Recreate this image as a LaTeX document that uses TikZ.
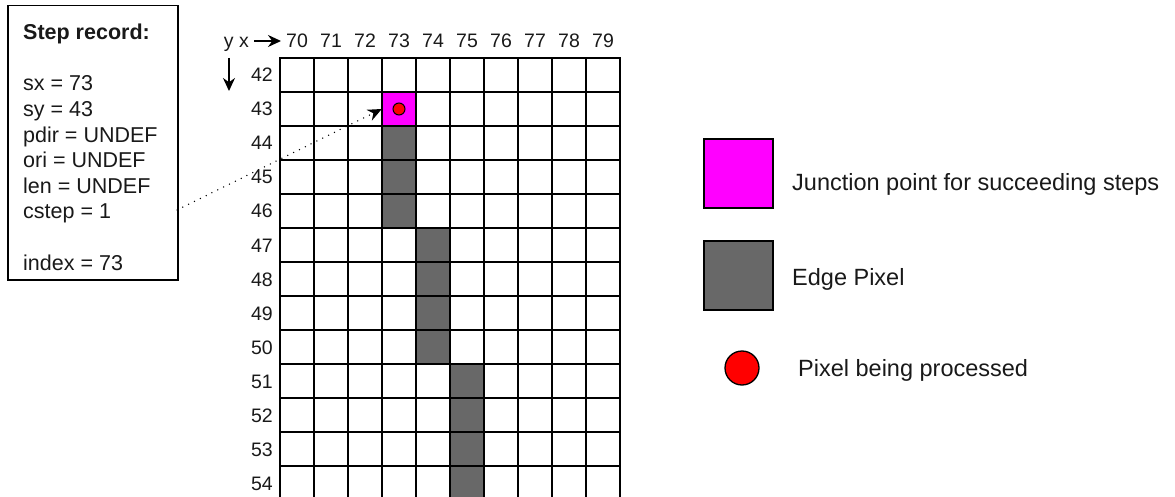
\documentclass[tikz,border=0pt]{standalone}
\usepackage{fontspec}
\setmainfont{Liberation Sans}
\usetikzlibrary{arrows.meta}
\definecolor{edgegray}{RGB}{104,104,104}
\definecolor{juncmag}{RGB}{255,0,255}
\definecolor{procred}{RGB}{255,0,0}
\definecolor{txt}{RGB}{25,25,25}
\begin{document}
\begin{tikzpicture}[x=1pt,y=-1pt,
  gridline/.style={line width=1.5pt, line cap=rect},
  reclabel/.style={anchor=base west, inner sep=0pt, text=txt, font=\fontsize{21.5}{25}\selectfont},
  axlabel/.style={inner sep=0pt, text=txt, font=\fontsize{19.5}{23}\selectfont},
  leglabel/.style={anchor=base west, inner sep=0pt, text=txt, font=\fontsize{23.5}{28}\selectfont},
  axarrow/.style={line width=1.4pt, -{Stealth[length=13pt,width=12pt]}},
  dotarrow/.style={line width=1.5pt, line cap=round, dash pattern=on 0pt off 6.5pt, -{Stealth[length=14pt,width=12pt]}},
  legbox/.style={draw, line width=1.5pt, minimum size=69pt, inner sep=0pt},
]
\useasboundingbox (0,0) rectangle (1175,497);

% step record
\node[draw, line width=1.5pt, minimum width=170pt, minimum height=274pt, inner sep=0pt, anchor=north west] (recbox) at (7,5) {};
\node[reclabel] (rec0) at (23,39.7) {\textbf{Step record:}};
\node[reclabel] (rec2) at (23,90.9) {sx = 73};
\node[reclabel] (rec3) at (23,116.5) {sy = 43};
\node[reclabel] (rec4) at (23,142.1) {pdir = UNDEF};
\node[reclabel] (rec5) at (23,167.7) {ori = UNDEF};
\node[reclabel] (rec6) at (23,193.3) {len = UNDEF};
\node[reclabel] (rec7) at (23,218.9) {cstep = 1};
\node[reclabel] (rec9) at (23,270.1) {index = 73};

% grid
\begin{scope}
\clip (0,0) rectangle (1175,497);
\fill[edgegray] (382,126) rectangle (416,228);
\fill[edgegray] (416,228) rectangle (450,364);
\fill[edgegray] (450,364) rectangle (484,510);
\node[fill=juncmag, minimum size=34pt, inner sep=0pt] (jcell) at (399,109) {};
\foreach \i in {0,...,10}{
  \draw[gridline] ({280+34*\i},58) -- ({280+34*\i},510);
}
\foreach \j in {0,...,12}{
  \draw[gridline] (280,{58+34*\j}) -- (620,{58+34*\j});
}
\end{scope}
\node[circle, draw, fill=procred, line width=1pt, minimum size=12pt, inner sep=0pt] (pdot) at (399,109) {};

% axis labels
\foreach \i in {0,...,9}{
  \pgfmathtruncatemacro\v{70+\i}
  \node[axlabel, anchor=base] (col\v) at ({297+34*\i},48) {\v};
}
\foreach \j in {0,...,12}{
  \pgfmathtruncatemacro\v{42+\j}
  \node[axlabel, anchor=base east] (row\v) at (273,{82+34*\j}) {\v};
}
\node[axlabel, anchor=base east] (yx) at (249,48) {y x};
\coordinate (xa0) at (254,41);
\coordinate (xa1) at (281,41);
\draw[axarrow] (xa0) -- (xa1);
\coordinate (ya0) at (229,58);
\coordinate (ya1) at (229,91);
\draw[axarrow] (ya0) -- (ya1);

% dotted pointer
\coordinate (ds) at (177,210);
\draw[dotarrow] (ds) -- (jcell.west);

% legend
\node[legbox, fill=juncmag] (legj) at (738.5,173.5) {};
\node[leglabel] (legjt) at (792,190.4) {Junction point for succeeding steps};
\node[legbox, fill=edgegray] (lege) at (738.5,275.5) {};
\node[leglabel] (leget) at (792,285.4) {Edge Pixel};
\node[circle, draw, fill=procred, line width=1.3pt, minimum size=34pt, inner sep=0pt] (legp) at (742,368) {};
\node[leglabel] (legpt) at (798,376.4) {Pixel being processed};
\end{tikzpicture}
\end{document}
